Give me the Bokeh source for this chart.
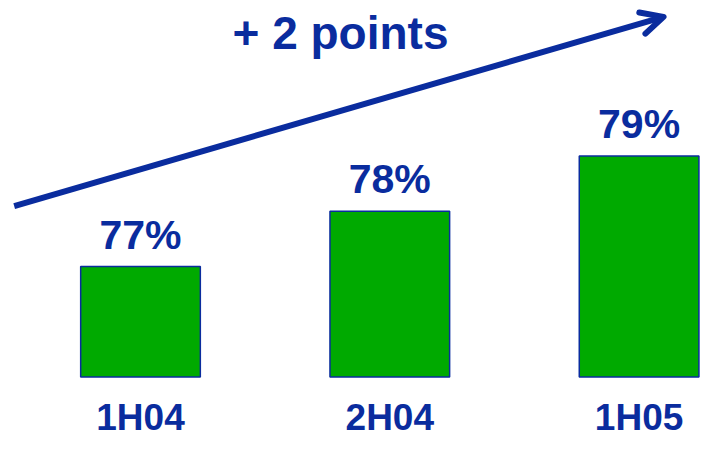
from bokeh.plotting import figure
from bokeh.models import ColumnDataSource, Range1d, Arrow, OpenHead
from bokeh.core.properties import value
from bokeh.embed import file_html
from bokeh.resources import INLINE

# ---- data ----
categories = ["1H04", "2H04", "1H05"]
shares = [77, 78, 79]
value_labels = ["77%", "78%", "79%"]
headline = "+ 2 points"

BLUE = "#0a2c9e"
GREEN = "#00aa00"
FONT = "Liberation Sans"

W, H = 704, 444
BASE = 75.0          # value at bar bottoms
SX = 249.3           # px per category step
SY = 55.2            # px per percentage point
X0_PX = 140.0        # canvas x of first category centre
BOTTOM_PX = 376.4    # canvas y (from top) of bar bottoms

x_start = -X0_PX / SX
x_end = x_start + W / SX
y_start = BASE - (H - BOTTOM_PX) / SY
y_end = y_start + H / SY


def cx(px):
    return x_start + px / SX


def cy(py):
    return y_end - py / SY


p = figure(width=W, height=H, output_backend="svg", toolbar_location=None,
           x_range=Range1d(x_start, x_end), y_range=Range1d(y_start, y_end),
           x_axis_type=None, y_axis_type=None, min_border=0,
           outline_line_color=None, background_fill_color="white",
           border_fill_color="white")
p.grid.visible = False

idx = list(range(len(categories)))
src = ColumnDataSource(dict(x=idx, top=shares, bottom=[BASE] * len(shares),
                            vlab=value_labels, cat=categories))

p.vbar(x="x", top="top", bottom="bottom", width=0.48, source=src,
       fill_color=GREEN, line_color=BLUE, line_width=1.5)

p.text(x="x", y="top", text="vlab", source=src, y_offset=-32,
       text_align="center", text_baseline="alphabetic",
       text_font=value(FONT), text_font_style="bold",
       text_font_size="41px", text_color=BLUE)

p.text(x="x", y="bottom", text="cat", source=src, y_offset=41,
       text_align="center", text_baseline="alphabetic",
       text_font=value(FONT), text_font_style="bold",
       text_font_size="37px", text_color=BLUE)

p.text(x=[cx(340)], y=[cy(32)], text=[headline],
       text_align="center", text_baseline="alphabetic",
       text_font=value(FONT), text_font_style="bold",
       text_font_size="46px", text_color=BLUE)

arrow = Arrow(x_start=cx(13.7), y_start=cy(205.6), x_end=cx(663), y_end=cy(16.4),
              line_color=BLUE, line_width=6,
              end=OpenHead(size=22, line_color=BLUE, line_width=6,
                           line_join="round", line_cap="round"))
p.add_layout(arrow)

open("out.html", "w").write(file_html(p, INLINE))
